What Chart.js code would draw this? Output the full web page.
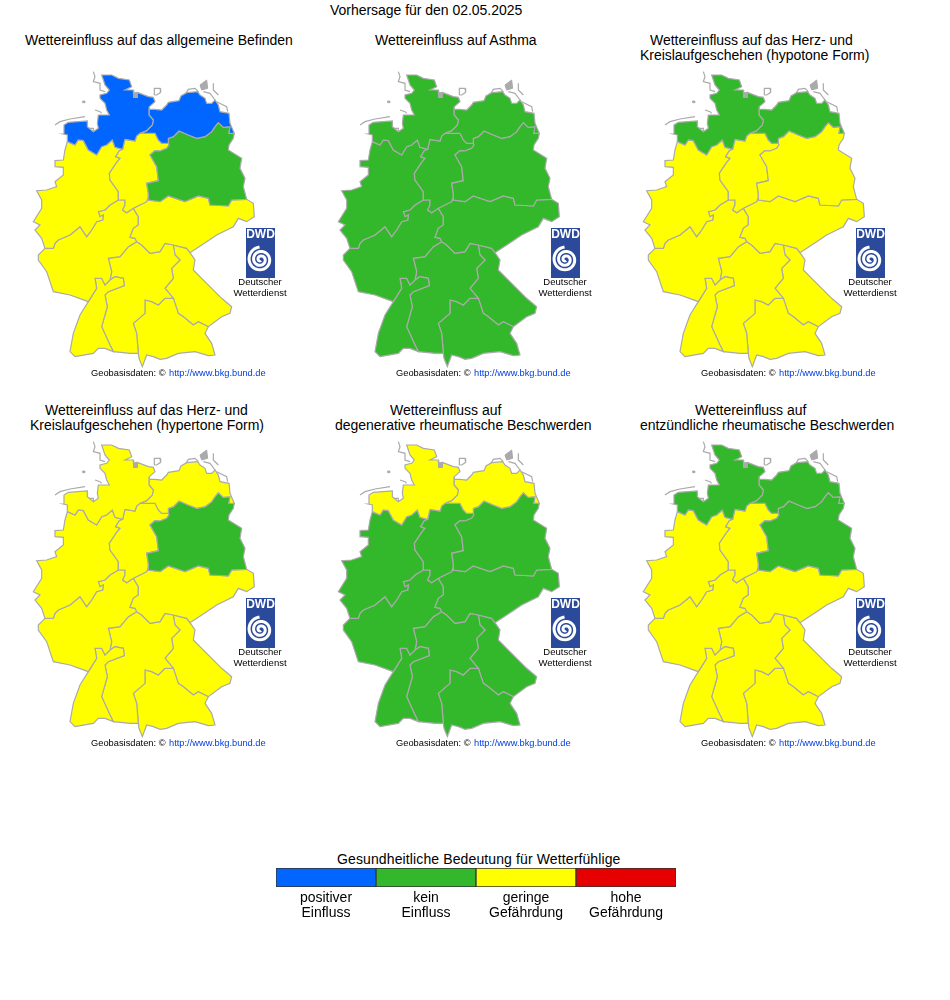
<!DOCTYPE html>
<html>
<head>
<meta charset="utf-8">
<script src="https://cdn.jsdelivr.net/npm/chart.js@4"></script>
<style>
  body { margin: 0; background: #fff; font-family: "Liberation Sans", sans-serif; color: #000; }
  #page { position: relative; width: 950px; height: 1000px; overflow: hidden; }
  canvas { position: absolute; }
  .txt { position: absolute; font-size: 14px; line-height: 16px; white-space: nowrap; letter-spacing: -0.03px; }
  .wide { letter-spacing: 0.12px; }
</style>
</head>
<body>
<div id="page"></div>
<script>
// outline pieces, in map units (3 units = 1 pixel)
const nwCoast = [[127,245],[127,225],[115,222],[117,195],[130,187],[187,183],[187,200],[205,215],[220,205],[217,190],[220,165],[253,165],[245,150],[240,130],[225,115],[225,105],[245,100],[253,90],[240,75],[230,45],[260,45],[280,55],[313,60],[320,80],[300,90],[325,90],[326,112],[337,112],[337,97],[370,110],[385,112],[390,125],[373,140],[372,148]];
const nwNe = [[372,148],[372,165],[385,180],[382,195],[365,212],[345,220]];
const nwC = [[345,220],[335,228],[330,243],[300,238],[297,250],[293,268]];
const nwW = [[293,268],[270,262],[262,240],[245,255],[230,260],[215,285],[190,270],[175,242],[160,240],[150,255],[127,245]];
const neCoast = [[372,148],[390,148],[410,150],[425,135],[430,127],[462,122],[468,108],[485,98],[518,95],[525,105],[540,115],[545,130],[560,130],[570,120],[580,135],[585,155],[612,160],[615,190],[628,220]];
const neE = [[628,220],[612,220],[615,200],[595,202],[580,188],[570,200],[560,215],[540,230],[515,235],[490,225],[462,213],[445,230],[430,235],[430,250]];
const neC = [[430,250],[425,250],[410,250],[400,240],[390,220],[345,220]];
const eOuter = [[628,220],[625,235],[612,255],[610,270],[650,295],[645,325],[660,355],[655,380],[665,418]];
const eMo = [[665,418],[620,420],[610,438],[555,435],[550,415],[520,408],[480,425],[430,408],[405,425],[370,420],[370,412]];
const eC = [[370,412],[370,400],[365,370],[400,362],[395,320],[375,285],[390,272],[405,273],[425,265],[432,255],[430,250]];
const cMo = [[370,412],[365,425],[325,445]];
const cRp = [[325,445],[305,458],[293,450],[300,435],[300,420],[280,420]];
const cW = [[280,420],[280,395],[255,360],[253,340],[273,310],[285,295],[272,290],[283,272],[293,268]];
const wRp = [[280,420],[255,435],[240,450],[220,455],[225,470],[235,465],[233,480],[215,485],[200,510],[185,530],[165,500],[135,525],[100,540],[90,550],[85,565],[60,565]];
const wOuter = [[60,565],[50,535],[30,510],[45,495],[25,485],[50,445],[50,420],[35,392],[65,390],[95,380],[90,365],[115,345],[115,322],[90,320],[90,302],[115,300],[120,270],[127,245]];
const moOuter = [[665,418],[685,430],[688,470],[665,485],[640,475],[625,500],[575,525],[545,545],[495,578]];
const moOb = [[495,578],[485,565],[445,555]];
const moBo = [[445,555],[420,550],[405,575],[375,580],[350,555],[335,545]];
const moRp = [[335,545],[330,535],[315,532],[325,505],[340,495],[340,470],[325,445]];
const rpBo = [[335,545],[310,560],[285,590],[250,595],[260,635],[255,660]];
const rpBww = [[255,660],[240,675],[230,655],[210,655],[215,685],[190,725]];
const rpOuter = [[190,725],[135,705],[85,695],[65,635],[40,600],[40,585],[60,565]];
const bwwBo = [[255,660],[270,650],[295,655],[298,677],[250,695],[240,705],[247,740],[230,800],[255,855],[265,875]];
const bwwOuter = [[265,875],[240,865],[220,865],[205,880],[150,890],[135,875],[145,820],[165,765],[190,725]];
const boOb = [[445,555],[450,585],[465,600],[440,625],[445,655],[420,685],[445,715]];
const boSb = [[445,715],[420,715],[400,735],[380,725],[360,720],[360,760],[325,790],[335,820],[340,880]];
const boOuter = [[340,880],[315,880],[265,875]];
const sbOb = [[445,715],[460,760],[475,770],[505,795],[520,785],[550,800]];
const sbOuter = [[550,800],[540,820],[560,850],[570,885],[550,887],[510,875],[460,880],[425,895],[405,898],[385,890],[365,885],[352,920],[342,895],[340,880]];
const obOuter = [[495,578],[510,600],[505,630],[530,655],[590,715],[620,740],[615,760],[590,770],[550,800]];

// islands and coast bits, outline only
const islands = [
  [[205,35],[210,50],[205,65],[225,70],[225,90],[240,95]],
  [[210,150],[225,155],[230,160]],
  [[90,195],[105,185],[135,177],[180,170]],
  [[388,105],[388,85],[405,85],[407,97],[395,105],[388,105]],
  [[480,105],[490,88],[510,85],[520,95]],
  [[565,70],[565,90],[580,105]],
  [[535,95],[555,100],[570,120]],
  [[575,125],[605,140],[608,155]],
  [[188,205],[205,205],[205,217],[190,215]]
];
// solid grey specks
const specks = [
  [[525,75],[545,60],[548,85],[530,90],[525,75]],
  [[173,123],[179,123],[179,128],[173,128],[173,123]],
  [[326,98],[337,98],[337,115],[326,115],[326,98]]
];

const rev = a => a.slice().reverse();
const regionShapes = {
  nw: [nwCoast, nwNe, nwC, nwW],
  ne: [neCoast, neE, neC, rev(nwNe)],
  e: [eOuter, eMo, eC, rev(neE)],
  c: [rev(neC), rev(eC), cMo, cRp, cW, rev(nwC)],
  w: [rev(nwW), rev(cW), wRp, wOuter],
  mo: [rev(eMo), moOuter, moOb, moBo, moRp, rev(cMo)],
  rp: [rev(wRp), rev(cRp), rev(moRp), rpBo, rpBww, rpOuter],
  bww: [rev(rpBww), bwwBo, bwwOuter],
  bo: [rev(rpBo), rev(moBo), boOb, boSb, boOuter, rev(bwwBo)],
  sb: [rev(boSb), sbOb, sbOuter],
  ob: [rev(moOb), obOuter, rev(sbOb), rev(boOb)]
};
const regionNames = Object.keys(regionShapes);

const colors = { P: '#0066ff', K: '#33b82b', G: '#ffff00', H: '#e60000' };
const outline = '#aaaaaa';

// class of each region per map, order as regionNames
const mapAllgemein = ['P','P','K','G','G','G','G','G','G','G','G'];
const mapAsthma = ['K','K','K','K','K','K','K','K','K','K','K'];
const mapHypoton = ['K','K','G','G','G','G','G','G','G','G','G'];
const mapHyperton = ['G','G','K','G','G','G','G','G','G','G','G'];
const mapDegenerativ = ['G','G','K','K','K','K','K','K','K','K','K'];
const mapEntzuendlich = ['K','K','K','G','G','G','G','G','G','G','G'];
const maps = [mapAllgemein, mapAsthma, mapHypoton, mapHyperton, mapDegenerativ, mapEntzuendlich];
const mapLeft = [25, 330, 635, 25, 330, 635];
const mapTop = [60, 60, 60, 430, 430, 430];

const titleLines = [
  ['Vorhersage für den 02.05.2025', 330, 2],
  ['Wettereinfluss auf das allgemeine Befinden', 25, 32],
  ['Wettereinfluss auf Asthma', 375, 32],
  ['Wettereinfluss auf das Herz- und', 650, 32],
  ['Kreislaufgeschehen (hypotone Form)', 640, 47],
  ['Wettereinfluss auf das Herz- und', 45, 402],
  ['Kreislaufgeschehen (hypertone Form)', 30, 417],
  ['Wettereinfluss auf', 390, 402],
  ['degenerative rheumatische Beschwerden', 335, 417],
  ['Wettereinfluss auf', 695, 402],
  ['entzündliche rheumatische Beschwerden', 640, 417]
];

const legendTitle = 'Gesundheitliche Bedeutung für Wetterfühlige';
const legendLabels = [['positiver','Einfluss'], ['kein','Einfluss'], ['geringe','Gefährdung'], ['hohe','Gefährdung']];
const legendValues = [1, 1, 1, 1];
const legendColors = [colors.P, colors.K, colors.G, colors.H];

Chart.defaults.font.family = '"Liberation Sans", sans-serif';
Chart.defaults.animation = false;

const page = document.getElementById('page');

function addText(text, x, y, cls) {
  const d = document.createElement('div');
  d.className = 'txt' + (cls ? ' ' + cls : '');
  d.textContent = text;
  d.style.left = x + 'px';
  d.style.top = y + 'px';
  page.appendChild(d);
}
titleLines.forEach(([text, x, y]) => addText(text, x, y));
addText(legendTitle, 337, 851, 'wide');

function addCanvas(x, y, w, h) {
  const c = document.createElement('canvas');
  c.width = w; c.height = h;
  c.style.left = x + 'px'; c.style.top = y + 'px';
  c.style.width = w + 'px'; c.style.height = h + 'px';
  page.appendChild(c);
  return c;
}

// DWD logo and the small credit under each map
const mapExtras = {
  id: 'mapExtras',
  afterDraw(chart) {
    const ctx = chart.ctx;
    ctx.save();
    ctx.fillStyle = '#2b4a9b';
    ctx.fillRect(221, 168, 29, 50);
    ctx.fillStyle = '#fff';
    ctx.font = 'bold 12px "Liberation Sans"';
    ctx.textAlign = 'center';
    ctx.textBaseline = 'middle';
    ctx.fillText('DWD', 235.5, 175);
    // spiral
    ctx.strokeStyle = '#fff';
    ctx.lineWidth = 3;
    ctx.beginPath();
    for (let t = 0; t < 16; t += 0.2) {
      const r = 1 + t * 0.72;
      const px = 235.5 + r * Math.cos(t + 1.2), py = 199.5 + r * Math.sin(t + 1.2);
      if (t === 0) ctx.moveTo(px, py); else ctx.lineTo(px, py);
    }
    ctx.stroke();
    ctx.fillStyle = '#000';
    ctx.font = '9.5px "Liberation Sans"';
    ctx.fillText('Deutscher', 235, 222);
    ctx.fillText('Wetterdienst', 235, 233);
    ctx.textAlign = 'left';
    ctx.font = '9.3px "Liberation Sans"';
    ctx.fillText('Geobasisdaten: \u00a9', 66, 313);
    ctx.fillStyle = '#0040e0';
    ctx.fillText('http://www.bkg.bund.de', 144, 313);
    ctx.restore();
  }
};

maps.forEach((classes, m) => {
  const datasets = regionNames.map((name, i) => ({
    data: regionShapes[name].flat().map(([x, y]) => ({ x, y })),
    showLine: true,
    fill: 'shape',
    tension: 0,
    pointRadius: 0,
    borderWidth: 1.2,
    borderColor: outline,
    backgroundColor: colors[classes[i]]
  }));
  islands.forEach(isle => datasets.push({
    data: isle.map(([x, y]) => ({ x, y })),
    showLine: true,
    fill: false,
    tension: 0,
    pointRadius: 0,
    borderWidth: 1.2,
    borderColor: outline
  }));
  specks.forEach(sp => datasets.push({
    data: sp.map(([x, y]) => ({ x, y })),
    showLine: true,
    fill: 'shape',
    tension: 0,
    pointRadius: 0,
    borderWidth: 1,
    borderColor: outline,
    backgroundColor: outline
  }));
  new Chart(addCanvas(mapLeft[m], mapTop[m], 270, 330), {
    type: 'scatter',
    data: { datasets },
    plugins: [mapExtras],
    options: {
      responsive: false,
      layout: { padding: 0 },
      plugins: { legend: { display: false }, tooltip: { enabled: false }, title: { display: false } },
      scales: {
        x: { type: 'linear', min: 0, max: 810, display: false },
        y: { type: 'linear', min: 0, max: 990, reverse: true, display: false }
      }
    }
  });
});

new Chart(addCanvas(266, 860, 420, 70), {
  type: 'bar',
  data: {
    labels: legendLabels,
    datasets: [{
      data: legendValues,
      backgroundColor: legendColors,
      borderColor: '#333333',
      borderWidth: 1,
      borderSkipped: false,
      barPercentage: 1,
      categoryPercentage: 1
    }]
  },
  options: {
    responsive: false,
    layout: { padding: { left: 10, right: 10, top: 8, bottom: 0 } },
    plugins: { legend: { display: false }, tooltip: { enabled: false } },
    scales: {
      x: {
        afterFit: axis => { axis.height = 43; },
        grid: { display: false, drawTicks: false },
        border: { display: false },
        ticks: { color: '#000', font: { size: 14, lineHeight: 1.1 }, maxRotation: 0, autoSkip: false, padding: 3 }
      },
      y: { min: 0, max: 1, display: false }
    }
  }
});
</script>
</body>
</html>
